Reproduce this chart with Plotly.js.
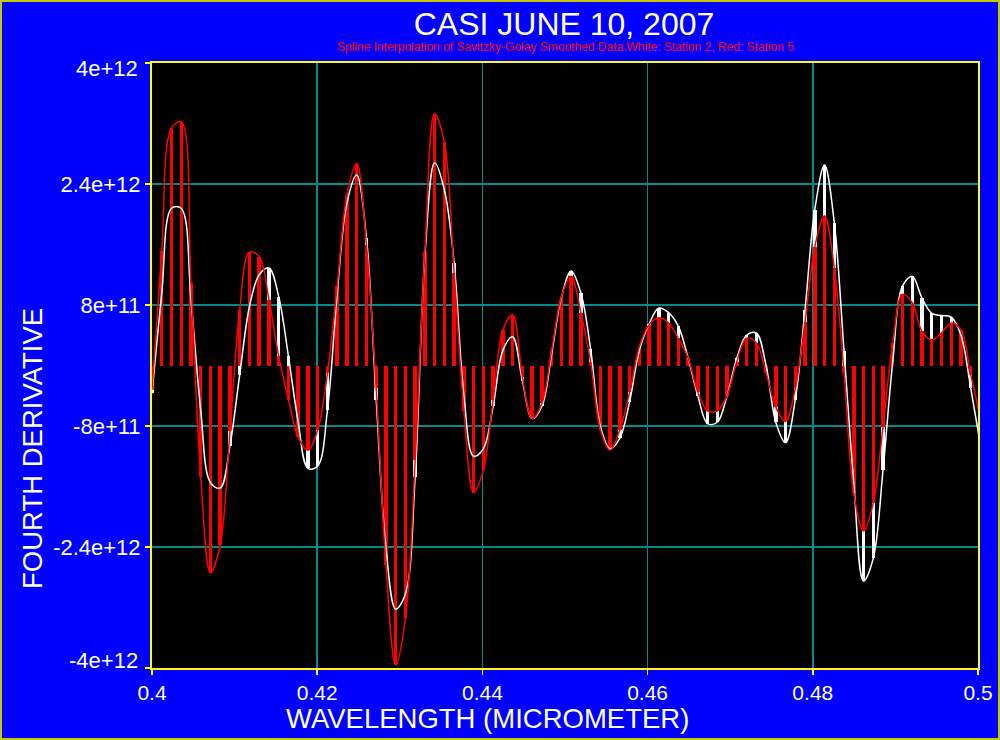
<!DOCTYPE html>
<html>
<head>
<meta charset="utf-8">
<script src="https://cdn.plot.ly/plotly-3.0.1.min.js"></script>
<style>html,body{margin:0;padding:0;background:#0000ff;}#chart{width:1000px;height:740px;}</style>
</head>
<body>
<div id="chart"></div>
<script>
// Wavelength samples (micrometer)
const wavelength = [0.40000,0.40118,0.40236,0.40354,0.40472,0.40590,0.40708,0.40826,0.40944,0.41062,
0.41180,0.41298,0.41416,0.41534,0.41652,0.41770,0.41888,0.42006,0.42124,0.42242,
0.42360,0.42478,0.42596,0.42714,0.42832,0.42950,0.43068,0.43186,0.43304,0.43422,
0.43540,0.43658,0.43776,0.43894,0.44012,0.44130,0.44248,0.44366,0.44484,0.44602,
0.44720,0.44838,0.44956,0.45074,0.45192,0.45310,0.45428,0.45546,0.45664,0.45782,
0.45900,0.46018,0.46136,0.46254,0.46372,0.46490,0.46608,0.46726,0.46844,0.46962,
0.47080,0.47198,0.47316,0.47434,0.47552,0.47670,0.47788,0.47906,0.48024,0.48142,
0.48260,0.48378,0.48496,0.48614,0.48732,0.48850,0.48968,0.49086,0.49204,0.49322,
0.49440,0.49558,0.49676,0.49794,0.49912,0.50030];

// Station 2 (white) fourth derivative
const station2 = [-0.37e12,0.95e12,2.08e12,2.08e12,0.87e12,-0.59e12,-1.55e12,-1.62e12,-1.06e12,-0.12e12,
0.78e12,1.20e12,1.29e12,0.91e12,0.12e12,-0.75e12,-1.36e12,-1.33e12,-0.59e12,0.95e12,
2.15e12,2.52e12,1.69e12,-0.45e12,-2.40e12,-3.22e12,-3.02e12,-1.47e12,1.45e12,2.68e12,
2.32e12,1.35e12,-0.40e12,-1.20e12,-1.10e12,-0.54e12,0.20e12,0.38e12,-0.20e12,-0.70e12,
-0.54e12,0.15e12,0.90e12,1.25e12,0.96e12,0.22e12,-0.80e12,-1.10e12,-0.96e12,-0.48e12,
0.20e12,0.55e12,0.76e12,0.70e12,0.52e12,0.10e12,-0.40e12,-0.77e12,-0.75e12,-0.40e12,
0.10e12,0.40e12,0.43e12,0.00e12,-0.75e12,-1.02e12,-0.45e12,0.74e12,2.06e12,2.65e12,
1.89e12,0.19e12,-1.55e12,-2.85e12,-2.55e12,-1.38e12,0.05e12,1.05e12,1.18e12,0.89e12,
0.69e12,0.66e12,0.64e12,0.40e12,-0.30e12,-1.05e12];

// Station 5 (red) fourth derivative
const station5 = [-0.32e12,1.51e12,3.14e12,3.22e12,1.09e12,-1.47e12,-2.74e12,-2.37e12,-0.87e12,0.74e12,
1.50e12,1.44e12,0.87e12,0.12e12,-0.45e12,-0.95e12,-1.12e12,-0.85e12,-0.10e12,1.05e12,
2.26e12,2.67e12,1.60e12,-0.30e12,-2.64e12,-3.96e12,-3.34e12,-1.25e12,1.50e12,3.33e12,
2.95e12,1.22e12,-0.60e12,-1.68e12,-1.38e12,-0.45e12,0.47e12,0.67e12,-0.15e12,-0.70e12,
-0.50e12,0.20e12,0.91e12,1.18e12,0.70e12,0.05e12,-0.85e12,-1.12e12,-0.85e12,-0.35e12,
0.25e12,0.54e12,0.63e12,0.56e12,0.36e12,0.10e12,-0.35e12,-0.60e12,-0.60e12,-0.40e12,
0.05e12,0.36e12,0.30e12,-0.10e12,-0.55e12,-0.74e12,-0.30e12,0.58e12,1.57e12,1.98e12,
1.29e12,-0.10e12,-1.69e12,-2.19e12,-1.82e12,-0.81e12,0.30e12,0.94e12,0.83e12,0.45e12,
0.34e12,0.43e12,0.56e12,0.47e12,-0.12e12,-0.70e12];

const xTickVals = [0.4,0.42,0.44,0.46,0.48,0.5];
const xTickText = ['0.4','0.42','0.44','0.46','0.48','0.5'];
const yTickVals = [-4e12,-2.4e12,-8e11,8e11,2.4e12,4e12];
const yTickText = ['','-2.4e+12','-8e+11','8e+11','2.4e+12',''];
const yEndLabels = ['-4e+12','4e+12'];

const FONT = '"Liberation Sans", Arial, sans-serif';
const barW = 0.00042;

const traces = [
  {type:'bar', x:wavelength, y:station2, width:barW, marker:{color:'#ffffff', line:{width:0}}, name:'Station 2', hoverinfo:'skip'},
  {type:'bar', x:wavelength, y:station5, width:barW, marker:{color:'#ff0000', line:{width:0}}, name:'Station 5', hoverinfo:'skip'},
  {type:'scatter', mode:'lines', x:wavelength, y:station2, line:{color:'#ffffff', width:1.5, shape:'spline', smoothing:1}, name:'Station 2 spline'},
  {type:'scatter', mode:'lines', x:wavelength, y:station5, line:{color:'#ff0000', width:1.5, shape:'spline', smoothing:1}, name:'Station 5 spline'}
];

const axisCommon = {
  showline:true, linecolor:'#ffff00', linewidth:2, mirror:true,
  ticks:'outside', ticklen:5, tickwidth:1.5, tickcolor:'#ffff00',
  showgrid:true, gridcolor:'#008c8c', gridwidth:1.5, zeroline:false,
  tickfont:{family:FONT, size:22, color:'#ffffff'}, tickmode:'array', fixedrange:true
};

const layout = {
  width:1000, height:740,
  margin:{l:152, r:22, t:63, b:72, pad:0},
  paper_bgcolor:'#0000ff', plot_bgcolor:'#000000',
  showlegend:false, barmode:'overlay', bargap:0,
  title:{text:'CASI JUNE 10, 2007', font:{family:FONT, size:32, color:'#ffffff'},
         x:0.564, xanchor:'center', xref:'container', y:0.968, yanchor:'middle', yref:'container'},
  xaxis:Object.assign({}, axisCommon, {range:[0.4,0.5], tickvals:xTickVals, ticktext:xTickText,
         tickfont:{family:FONT, size:21, color:'#ffffff'}}),
  yaxis:Object.assign({}, axisCommon, {range:[-4e12,4e12], tickvals:yTickVals, ticktext:yTickText}),
  annotations:[
    {text:'Spline Interpolation of Savitzky-Golay Smoothed Data.White: Station 2, Red: Station 5',
     xref:'paper', yref:'paper', x:0.501, y:1.0265, xanchor:'center', yanchor:'middle', showarrow:false,
     font:{family:FONT, size:12, color:'#ff0000'}},
    {text:'WAVELENGTH (MICROMETER)', xref:'paper', yref:'paper', x:0.4056, y:-0.0835,
     xanchor:'center', yanchor:'middle', showarrow:false, font:{family:FONT, size:27.5, color:'#ffffff'}},
    {text:'FOURTH DERIVATIVE', xref:'paper', yref:'paper', x:-0.1453, y:0.3636, textangle:-90,
     xanchor:'center', yanchor:'middle', showarrow:false, font:{family:FONT, size:27.5, color:'#ffffff'}},
    {text:yEndLabels[0], xref:'paper', yref:'paper', x:-0.0145, y:0.0132, xanchor:'right', yanchor:'middle',
     showarrow:false, font:{family:FONT, size:22, color:'#ffffff'}},
    {text:yEndLabels[1], xref:'paper', yref:'paper', x:-0.0145, y:0.9917, xanchor:'right', yanchor:'middle',
     showarrow:false, font:{family:FONT, size:22, color:'#ffffff'}}
  ],
  shapes:[
    {type:'rect', xref:'paper', yref:'paper', x0:-0.1828, x1:1.0254, y0:-0.1174, y1:1.1025,
     line:{color:'#c8c800', width:2}, fillcolor:'rgba(0,0,0,0)', layer:'above'}
  ]
};

Plotly.newPlot('chart', traces, layout, {displayModeBar:false, staticPlot:true});
</script>
</body>
</html>
